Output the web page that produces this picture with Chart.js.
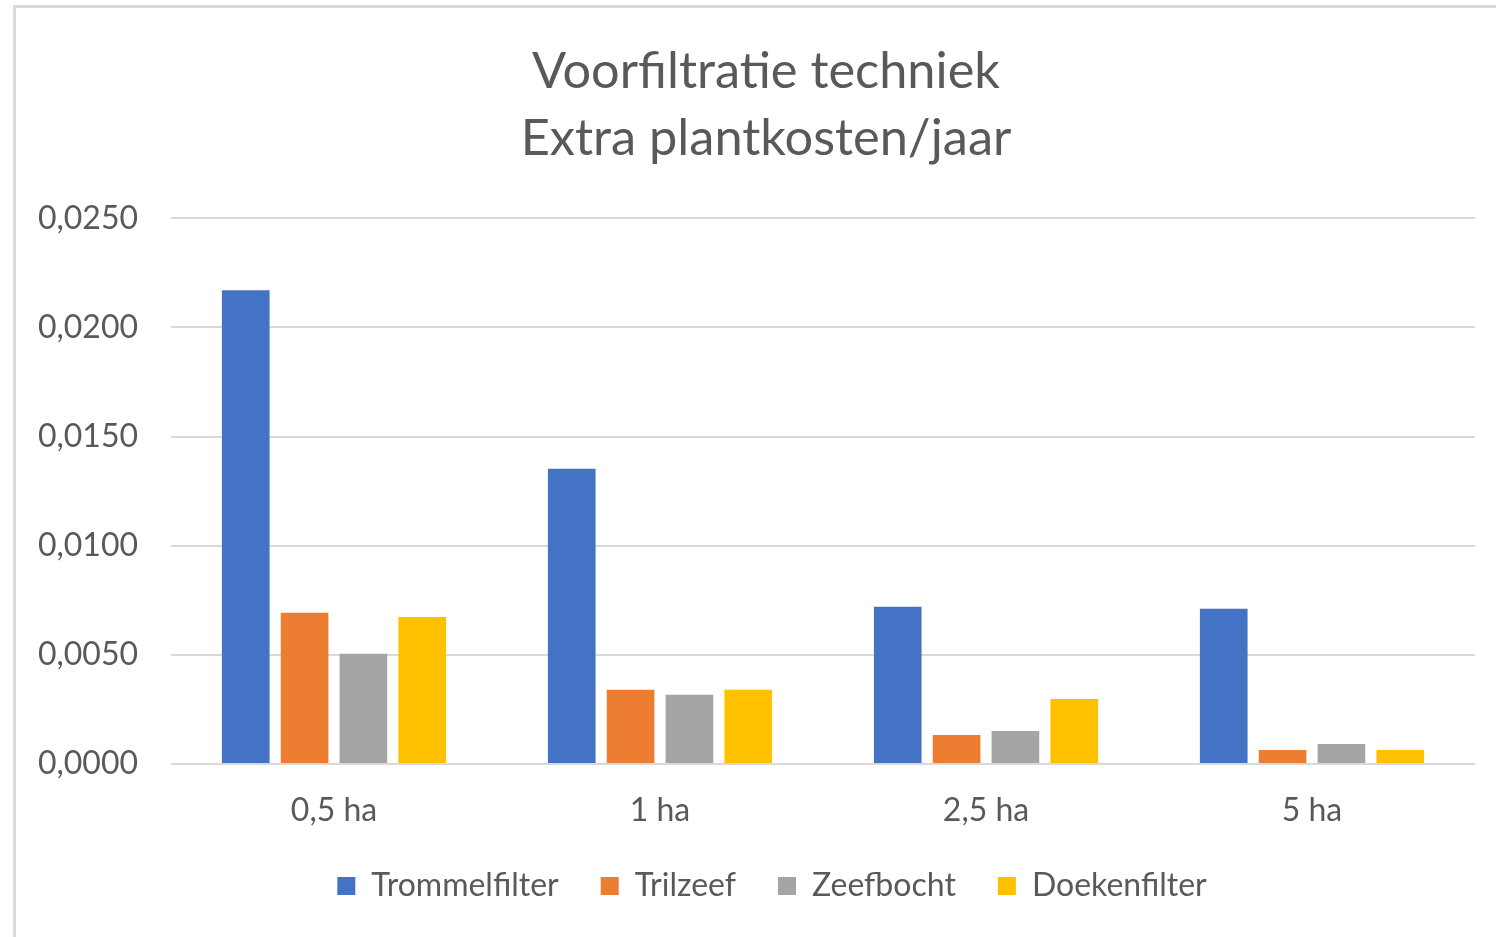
<!DOCTYPE html>
<html>
<head>
<meta charset="utf-8">
<script src="https://cdn.jsdelivr.net/npm/chart.js@4/dist/chart.umd.min.js"></script>
<style>
  html, body { margin: 0; padding: 0; background: #ffffff; overflow: hidden; }
  #frame { position: absolute; left: 13px; top: 5px; width: 2000px; height: 2000px; border: 3px solid #d9d9d9; box-sizing: border-box; }
  #wrap { position: absolute; left: 0; top: 0; width: 1496px; height: 937px; }
</style>
</head>
<body>
<div id="frame"></div>
<div id="wrap"><canvas id="c" width="1496" height="937"></canvas></div>
<script>
const titleLines = ['Voorfiltratie techniek', 'Extra plantkosten/jaar'];
const categories = ['0,5 ha', '1 ha', '2,5 ha', '5 ha'];
const seriesNames = ['Trommelfilter', 'Trilzeef', 'Zeefbocht', 'Doekenfilter'];
const trommelfilter = [0.0217, 0.01353, 0.0072, 0.00711];
const trilzeef = [0.00693, 0.0034, 0.00133, 0.00064];
const zeefbocht = [0.00505, 0.00317, 0.00151, 0.00092];
const doekenfilter = [0.00674, 0.0034, 0.00298, 0.00064];
const seriesColors = ['#4472c4', '#ed7d31', '#a5a5a5', '#ffc000'];
const yTicks = [0, 0.005, 0.01, 0.015, 0.02, 0.025];

const values = [trommelfilter, trilzeef, zeefbocht, doekenfilter];
const textColor = '#595959';
const fontFamily = 'Lato, "Open Sans", sans-serif';

// shift title and legend after layout (Excel centres them on the whole chart object)
const shiftBlocks = {
  id: 'shiftBlocks',
  afterLayout(chart) {
    const t = chart.titleBlock;
    if (t) { t.left += 13.5; t.right += 13.5; }
    const l = chart.legend;
    if (l) { l.left += 19.5; l.right += 19.5; l.top -= 6; l.bottom -= 6; }
  }
};

new Chart(document.getElementById('c'), {
  type: 'bar',
  data: {
    labels: categories,
    datasets: seriesNames.map((name, i) => ({
      label: name,
      data: values[i],
      backgroundColor: seriesColors[i],
      borderWidth: 0,
      categoryPercentage: 0.722,
      barPercentage: 0.81
    }))
  },
  plugins: [shiftBlocks],
  options: {
    responsive: false,
    animation: false,
    devicePixelRatio: 1,
    layout: { padding: { left: 30, right: 21, top: 38, bottom: 19 } },
    plugins: {
      title: {
        display: true,
        text: titleLines,
        color: textColor,
        font: { family: fontFamily, size: 50.5, weight: 'normal', lineHeight: 1.33 },
        padding: { top: 0, bottom: 46 }
      },
      legend: {
        position: 'bottom',
        labels: {
          color: textColor,
          font: { family: fontFamily, size: 32 },
          boxWidth: 18,
          boxHeight: 18,
          padding: 42,
          useBorderRadius: false
        }
      },
      tooltip: { enabled: false }
    },
    scales: {
      x: {
        afterFit: (scale) => { scale.height = 70; },
        grid: { display: false, drawTicks: false },
        border: { display: false },
        ticks: { color: textColor, font: { family: fontFamily, size: 32 }, padding: 27 }
      },
      y: {
        min: 0,
        max: 0.025,
        afterFit: (scale) => { scale.width = 141; },
        afterBuildTicks: (scale) => { scale.ticks = yTicks.map(v => ({ value: v })); },
        grid: { color: '#d9d9d9', lineWidth: 2, drawTicks: false },
        border: { display: false },
        ticks: {
          color: textColor,
          font: { family: fontFamily, size: 32 },
          padding: 33,
          callback: (v) => Number(v).toFixed(4).replace('.', ',')
        }
      }
    }
  }
});
</script>
</body>
</html>
